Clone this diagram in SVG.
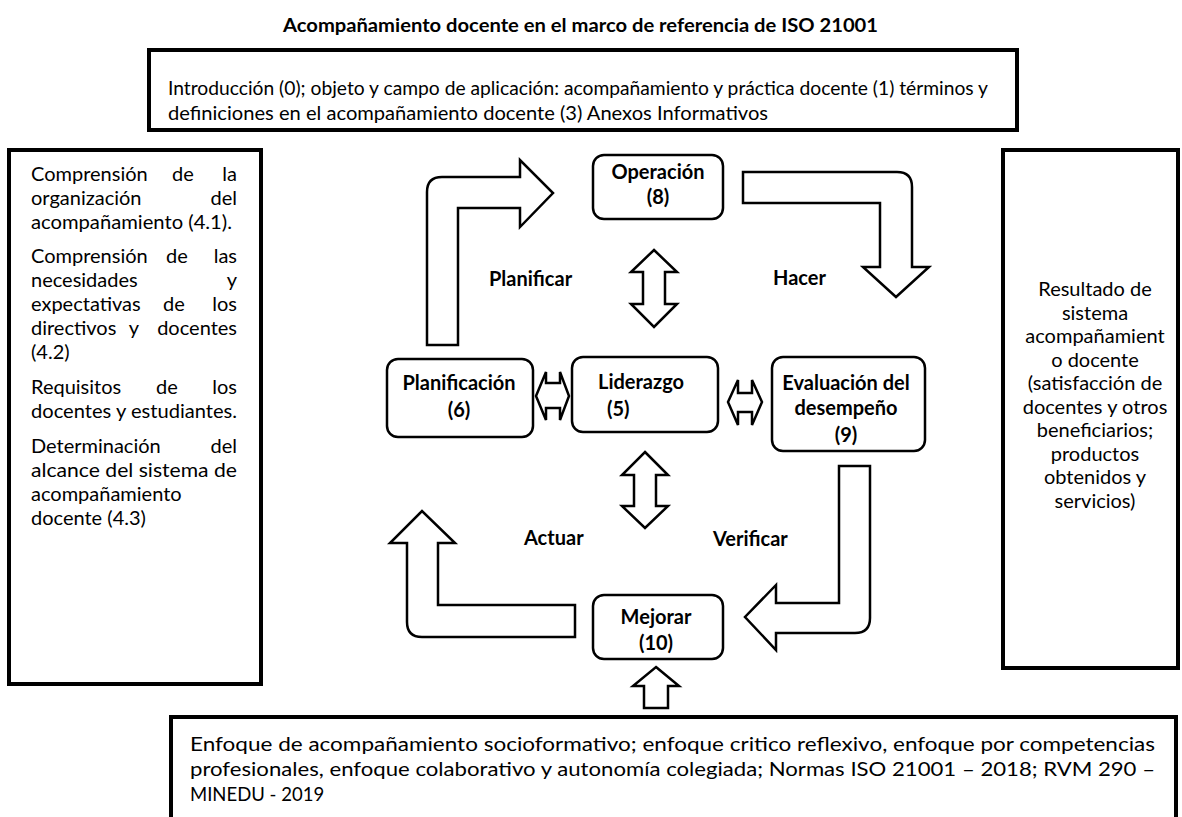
<svg xmlns="http://www.w3.org/2000/svg" width="1182" height="817" viewBox="0 0 1182 817">
<style>
text{font-family:"Lato","Liberation Sans",sans-serif;fill:#000}
.t{font-size:18.5px}
.l{font-size:20px}
.b{font-size:20px;font-weight:bold}
.ttl{font-size:18px;font-weight:bold}
.frame{fill:#fff;stroke:#000;stroke-width:4}
.node{fill:#fff;stroke:#000;stroke-width:2.5}
.arr{fill:#fff;stroke:#000;stroke-width:2.5;stroke-linejoin:miter}
.m{text-anchor:middle}
.e{text-anchor:end}
</style>
<rect width="1182" height="817" fill="#fff"/>
<text id="title" class="ttl" x="283" y="32" textLength="595" lengthAdjust="spacingAndGlyphs">Acompañamiento docente en el marco de referencia de ISO 21001</text>

<g id="top-box">
<rect class="frame" x="149" y="50" width="868" height="80"/>
<text class="t" x="168" y="95" textLength="820" lengthAdjust="spacingAndGlyphs">Introducción (0); objeto y campo de aplicación: acompañamiento y práctica docente (1) términos y</text>
<text class="t" x="168" y="120" textLength="600" lengthAdjust="spacingAndGlyphs">definiciones en el acompañamiento docente (3) Anexos Informativos</text>
</g>

<g id="left-box">
<rect class="frame" x="9" y="150" width="252" height="534"/>
<text class="l" x="31" y="181">Comprensión</text><text class="l m" x="183" y="181">de</text><text class="l e" x="237" y="181">la</text>
<text class="l" x="31" y="205">organización</text><text class="l e" x="237" y="205">del</text>
<text class="l" x="31" y="229" textLength="201" lengthAdjust="spacingAndGlyphs">acompañamiento (4.1).</text>
<text class="l" x="31" y="263">Comprensión</text><text class="l m" x="177" y="263">de</text><text class="l e" x="237" y="263">las</text>
<text class="l" x="31" y="287">necesidades</text><text class="l e" x="237" y="287">y</text>
<text class="l" x="31" y="311">expectativas</text><text class="l m" x="174" y="311">de</text><text class="l e" x="237" y="311">los</text>
<text class="l" x="31" y="335">directivos</text><text class="l m" x="134" y="335">y</text><text class="l e" x="237" y="335">docentes</text>
<text class="l" x="31" y="359">(4.2)</text>
<text class="l" x="31" y="394">Requisitos</text><text class="l m" x="167" y="394">de</text><text class="l e" x="237" y="394">los</text>
<text class="l" x="31" y="418" textLength="206" lengthAdjust="spacingAndGlyphs">docentes y estudiantes.</text>
<text class="l" x="31" y="453">Determinación</text><text class="l e" x="237" y="453">del</text>
<text class="l" x="31" y="477" textLength="206" lengthAdjust="spacingAndGlyphs">alcance del sistema de</text>
<text class="l" x="31" y="501">acompañamiento</text>
<text class="l" x="31" y="525">docente (4.3)</text>
</g>

<g id="right-box">
<rect class="frame" x="1003" y="150" width="175" height="518"/>
<text class="l m" x="1095" y="296">Resultado de</text>
<text class="l m" x="1095" y="319.5">sistema</text>
<text class="l m" x="1095" y="343">acompañamient</text>
<text class="l m" x="1095" y="366.5">o docente</text>
<text class="l m" x="1095" y="390">(satisfacción de</text>
<text class="l m" x="1095" y="413.5">docentes y otros</text>
<text class="l m" x="1095" y="437">beneficiarios;</text>
<text class="l m" x="1095" y="460.5">productos</text>
<text class="l m" x="1095" y="484">obtenidos y</text>
<text class="l m" x="1095" y="507.5">servicios)</text>
</g>

<g id="bottom-box">
<rect class="frame" x="171" y="717" width="1005" height="104"/>
<text class="t" x="190" y="751" textLength="965" lengthAdjust="spacingAndGlyphs">Enfoque de acompañamiento socioformativo; enfoque critico reflexivo, enfoque por competencias</text>
<text class="t" x="190" y="776" textLength="965" lengthAdjust="spacingAndGlyphs">profesionales, enfoque colaborativo y autonomía colegiada; Normas ISO 21001 – 2018; RVM 290 –</text>
<text class="t" x="190" y="801">MINEDU - 2019</text>
</g>

<g id="node-operacion">
<rect class="node" x="593" y="155" width="130" height="64" rx="11"/>
<text class="b m" x="658" y="179">Operación</text>
<text class="b m" x="658" y="204">(8)</text>
</g>
<g id="node-planificacion">
<rect class="node" x="387" y="359" width="146" height="78" rx="11"/>
<text class="b m" x="459" y="390">Planificación</text>
<text class="b m" x="459" y="417">(6)</text>
</g>
<g id="node-liderazgo">
<rect class="node" x="572" y="357" width="146" height="75" rx="11"/>
<text class="b" x="598" y="389">Liderazgo</text>
<text class="b" x="607" y="416">(5)</text>
</g>
<g id="node-evaluacion">
<rect class="node" x="772" y="357" width="153" height="94" rx="11"/>
<text class="b m" x="846" y="390">Evaluación del</text>
<text class="b m" x="846" y="415">desempeño</text>
<text class="b m" x="846" y="442">(9)</text>
</g>
<g id="node-mejorar">
<rect class="node" x="593" y="595" width="130" height="64" rx="11"/>
<text class="b m" x="656" y="624">Mejorar</text>
<text class="b m" x="656" y="650">(10)</text>
</g>

<g id="connectors">
<path class="arr" d="M427,345 L427,192 Q427,177 442,177 L520,177 L520,160 L553,193 L520,227 L520,208 L458,208 L458,345 Z"/>
<path class="arr" d="M743,172 L897,172 Q912,172 912,187 L912,267 L929,267 L896,297 L863,267 L880,267 L880,203 L743,203 Z"/>
<path class="arr" d="M839,466 L870,466 L870,618 Q870,633 855,633 L776,633 L776,650 L745,617 L776,585 L776,603 L839,603 Z"/>
<path class="arr" d="M575,605 L575,637 L422,637 Q407,637 407,622 L407,543 L390,543 L422,511 L455,543 L438,543 L438,605 Z"/>
<polygon class="arr" points="654,250 677,272 665,272 665,304 677,304 654,327 631,304 643,304 643,272 631,272"/>
<polygon class="arr" points="645,452 668,475 656,475 656,506 668,506 645,528 622,506 634,506 634,475 622,475"/>
<polygon class="arr" points="536,396 546,372 546,383 560,383 560,372 569,396 560,420 560,408 546,408 546,420"/>
<polygon class="arr" points="728,402 738,380 738,393 752,393 752,380 762,402 752,425 752,412 738,412 738,425"/>
<polygon class="arr" points="656,667 679,686 668,686 668,708 644,708 644,686 633,686"/>
<text class="b" x="489" y="286">Planificar</text>
<text class="b" x="773" y="285">Hacer</text>
<text class="b" x="524" y="545">Actuar</text>
<text class="b" x="713" y="546">Verificar</text>
</g>
</svg>
